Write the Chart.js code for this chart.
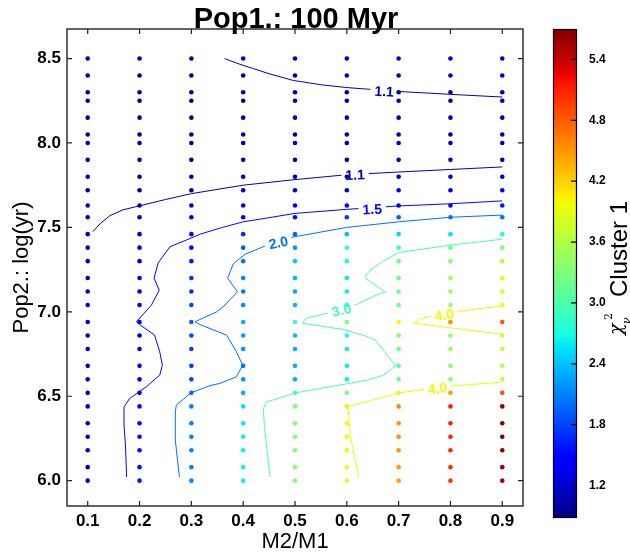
<!DOCTYPE html>
<html>
<head>
<meta charset="UTF-8">
<title>Pop1.: 100 Myr</title>
<style>
  body { margin: 0; background: #fff; }
  #wrap { position: relative; width: 630px; height: 558px; }
  #wrap canvas { position: absolute; left: 0; top: 0; }
</style>
</head>
<body>
<div id="wrap">
  <canvas id="grid" width="630" height="558"></canvas>
  <canvas id="cbar" width="630" height="558"></canvas>
</div>
<script src="https://cdn.jsdelivr.net/npm/chart.js@4"></script>
<script>
const FONT = '"Liberation Sans", Arial, sans-serif';

// model grid: mass ratio columns, log(age) rows (top to bottom)
const massRatio = [0.1, 0.2, 0.3, 0.4, 0.5, 0.6, 0.7, 0.8, 0.9];
const logAge = [8.5, 8.4, 8.3, 8.25, 8.15, 8.05, 8.0, 7.9, 7.8, 7.72,
                7.63, 7.56, 7.46, 7.38, 7.3, 7.2, 7.12, 7.04, 6.94, 6.86,
                6.78, 6.68, 6.6, 6.52, 6.44, 6.34, 6.26, 6.18, 6.08, 6.0];

// reduced chi^2 for each mass ratio, same row order as logAge
const chi2_q01 = [1.02,1.01,1.00,0.99,0.98,0.97,0.97,0.98,1.00,1.02, 1.04,1.06,1.08,1.09,1.10,1.11,1.11,1.12,1.14,1.12, 1.12,1.11,1.12,1.12,1.13,1.13,1.14,1.14,1.14,1.15];
const chi2_q02 = [1.03,1.00,0.97,0.95,0.93,0.91,0.88,0.92,0.96,1.02, 1.09,1.14,1.18,1.22,1.25,1.28,1.27,1.30,1.47,1.31, 1.29,1.28,1.30,1.36,1.52,1.56,1.57,1.57,1.58,1.58];
const chi2_q03 = [1.05,1.03,1.00,0.98,0.96,0.95,0.95,0.97,1.01,1.10, 1.18,1.30,1.45,1.55,1.62,1.72,1.70,1.78,1.95,1.82, 1.80,1.78,1.82,1.98,2.08,2.10,2.11,2.12,2.12,2.13];
const chi2_q04 = [1.12,1.08,1.04,1.02,1.00,0.99,0.99,1.02,1.07,1.15, 1.28,1.45,1.70,1.92,2.05,2.10,2.05,2.15,2.30,2.22, 2.18,2.02,2.20,2.30,2.55,2.60,2.62,2.62,2.63,2.63];
const chi2_q05 = [1.15,1.11,1.07,1.05,1.03,1.02,1.02,1.04,1.09,1.20, 1.40,1.55,1.95,2.20,2.45,2.35,2.30,2.35,2.90,2.38, 2.32,2.30,2.32,2.98,3.30,3.32,3.33,3.33,3.34,3.34];
const chi2_q06 = [1.16,1.12,1.09,1.07,1.05,1.04,1.04,1.06,1.10,1.25, 1.45,1.75,2.40,2.85,2.75,2.60,2.60,2.70,3.30,2.75, 2.62,2.60,2.62,3.30,4.00,3.97,3.95,3.93,3.90,3.86];
const chi2_q07 = [1.18,1.13,1.10,1.08,1.06,1.05,1.05,1.07,1.12,1.30, 1.50,1.92,2.50,2.95,3.15,3.15,3.13,3.20,3.95,3.30, 3.20,3.00,3.15,4.00,4.55,4.50,4.50,4.48,4.45,4.45];
const chi2_q08 = [1.19,1.14,1.11,1.09,1.07,1.06,1.06,1.08,1.14,1.35, 1.55,2.02,2.55,3.15,3.40,3.45,3.50,3.50,4.55,3.45, 3.42,3.35,3.42,4.45,5.10,5.10,5.10,5.05,5.02,5.00];
const chi2_q09 = [1.20,1.15,1.12,1.09,1.08,1.07,1.07,1.09,1.16,1.40, 1.60,2.05,2.75,3.30,3.60,3.90,3.75,3.97,4.85,3.80, 3.65,3.60,3.72,4.85,5.60,5.60,5.70,5.60,5.55,5.55];
const chi2Columns = [chi2_q01, chi2_q02, chi2_q03, chi2_q04, chi2_q05, chi2_q06, chi2_q07, chi2_q08, chi2_q09];

const xTicks = [0.1, 0.2, 0.3, 0.4, 0.5, 0.6, 0.7, 0.8, 0.9];
const yTicks = [6.0, 6.5, 7.0, 7.5, 8.0, 8.5];
const cbTicks = [1.2, 1.8, 2.4, 3.0, 3.6, 4.2, 4.8, 5.4];
const cbMin = 0.88, cbMax = 5.7;

// contour paths, [M2/M1, log(yr)]
const cont11a = [[0.364,8.50],[0.39,8.47],[0.42,8.44],[0.45,8.41],[0.497,8.37],[0.55,8.345],[0.6,8.328],[0.7,8.305],[0.8,8.288],[0.9,8.272]];
const cont11b = [[0.11,7.475],[0.125,7.525],[0.143,7.57],[0.168,7.604],[0.2,7.628],[0.25,7.665],[0.3,7.70],[0.4,7.75],[0.5,7.783],[0.6,7.812],[0.7,7.828],[0.8,7.843],[0.9,7.858]];
const cont15 = [[0.175,6.021],[0.173,6.2],[0.170,6.33],[0.170,6.437],[0.181,6.487],[0.213,6.556],[0.239,6.625],[0.244,6.684],[0.239,6.763],[0.229,6.862],[0.2,6.925],[0.194,6.941],[0.223,7.040],[0.238,7.129],[0.228,7.199],[0.236,7.290],[0.259,7.386],[0.291,7.426],[0.317,7.46],[0.36,7.50],[0.4,7.533],[0.433,7.549],[0.5,7.583],[0.6,7.607],[0.7,7.627],[0.8,7.64],[0.9,7.657]];
const cont20 = [[0.277,6.021],[0.269,6.24],[0.269,6.407],[0.271,6.447],[0.299,6.52],[0.336,6.563],[0.355,6.576],[0.387,6.615],[0.399,6.684],[0.387,6.763],[0.368,6.862],[0.317,6.924],[0.307,6.941],[0.349,7.0],[0.365,7.04],[0.389,7.119],[0.370,7.199],[0.381,7.285],[0.404,7.341],[0.442,7.39],[0.491,7.44],[0.6,7.5],[0.7,7.533],[0.8,7.56],[0.9,7.573]];
const cont30 = [[0.452,6.021],[0.441,6.319],[0.439,6.427],[0.445,6.466],[0.501,6.52],[0.639,6.595],[0.671,6.625],[0.694,6.680],[0.655,6.833],[0.635,6.858],[0.594,6.895],[0.515,6.932],[0.52,6.961],[0.561,6.99],[0.61,7.03],[0.652,7.093],[0.674,7.118],[0.636,7.199],[0.638,7.222],[0.652,7.262],[0.671,7.301],[0.7,7.351],[0.8,7.395],[0.9,7.43]];
const cont40a = [[0.9,7.035],[0.813,7.002],[0.761,6.972],[0.742,6.958],[0.729,6.934],[0.8,6.905],[0.9,6.868]];
const cont40b = [[0.897,6.582],[0.8,6.561],[0.7,6.52],[0.6,6.437],[0.603,6.418],[0.607,6.259],[0.623,6.021]];
const contourPaths = [cont11a, cont11b, cont15, cont20, cont30, cont40a, cont40b];
const contourLevels = [1.1, 1.1, 1.5, 2.0, 3.0, 4.0, 4.0];

// inline contour labels
const labelText = ['1.1', '1.1', '1.5', '2.0', '3.0', '4.0', '4.0'];
const labelX = [0.672, 0.616, 0.649, 0.468, 0.590, 0.788, 0.775];
const labelY = [8.306, 7.812, 7.608, 7.41, 7.011, 6.981, 6.546];
const labelAngle = [3, -2, -3, -12, -14, -9, -7];

// matplotlib "jet"
const jetR = [[0,0],[0.35,0],[0.66,1],[0.89,1],[1,0.5]];
const jetG = [[0,0],[0.125,0],[0.375,1],[0.64,1],[0.91,0],[1,0]];
const jetB = [[0,0.5],[0.11,1],[0.34,1],[0.65,0],[1,0]];
function seg(pts, t) {
  for (let i = 1; i < pts.length; i++) {
    if (t <= pts[i][0]) {
      const [x0, y0] = pts[i - 1], [x1, y1] = pts[i];
      return y0 + (y1 - y0) * (t - x0) / (x1 - x0);
    }
  }
  return pts[pts.length - 1][1];
}
function jetT(t) {
  t = Math.min(1, Math.max(0, t));
  return 'rgb(' + [jetR, jetG, jetB].map(p => Math.round(seg(p, t) * 255)).join(',') + ')';
}
function jet(v) { return jetT((v - cbMin) / (cbMax - cbMin)); }

const points = [], pointColors = [];
massRatio.forEach((q, i) => {
  logAge.forEach((a, j) => {
    points.push({ x: q, y: a });
    pointColors.push(jet(chi2Columns[i][j]));
  });
});

const datasets = [{
  data: points,
  pointBackgroundColor: pointColors,
  pointBorderWidth: 0,
  pointRadius: 2.3
}];
contourPaths.forEach((path, k) => {
  datasets.push({
    data: path.map(p => ({ x: p[0], y: p[1] })),
    showLine: true,
    borderColor: jet(contourLevels[k]),
    borderWidth: 1,
    pointRadius: 0,
    tension: 0
  });
});

// box with inward ticks on all four sides
const frame = {
  id: 'frame',
  afterDatasetsDraw(chart) {
    const { ctx, chartArea: a, scales: { x, y } } = chart;
    ctx.save();
    ctx.strokeStyle = '#222';
    ctx.lineWidth = 1.4;
    ctx.strokeRect(a.left, a.top, a.right - a.left, a.bottom - a.top);
    ctx.lineWidth = 1.2;
    ctx.beginPath();
    xTicks.forEach(v => {
      const px = x.getPixelForValue(v);
      ctx.moveTo(px, a.bottom); ctx.lineTo(px, a.bottom - 5);
      ctx.moveTo(px, a.top); ctx.lineTo(px, a.top + 5);
    });
    yTicks.forEach(v => {
      const py = y.getPixelForValue(v);
      ctx.moveTo(a.left, py); ctx.lineTo(a.left + 5, py);
      ctx.moveTo(a.right, py); ctx.lineTo(a.right - 5, py);
    });
    ctx.stroke();
    ctx.restore();
  },
  afterDraw(chart) {
    const { ctx } = chart;
    ctx.save();
    ctx.font = 'bold 29px ' + FONT;
    ctx.fillStyle = '#000';
    ctx.textAlign = 'center';
    ctx.textBaseline = 'alphabetic';
    ctx.fillText('Pop1.: 100 Myr', 296, 28);
    ctx.restore();
  }
};

// contour labels go under the grid dots (dataset 0 is drawn last)
const contourLabels = {
  id: 'contourLabels',
  beforeDatasetDraw(chart, args) {
    if (args.index !== 0) return;
    const { ctx, scales: { x, y } } = chart;
    ctx.save();
    ctx.font = 'bold 14px ' + FONT;
    ctx.textAlign = 'center';
    ctx.textBaseline = 'middle';
    labelText.forEach((t, k) => {
      ctx.save();
      ctx.translate(x.getPixelForValue(labelX[k]), y.getPixelForValue(labelY[k]));
      ctx.rotate(labelAngle[k] * Math.PI / 180);
      const w = ctx.measureText(t).width;
      ctx.fillStyle = '#fff';
      ctx.fillRect(-w / 2 - 4, -4, w + 8, 8);
      ctx.fillStyle = jet(contourLevels[k]);
      ctx.fillText(t, 0, 1);
      ctx.restore();
    });
    ctx.restore();
  }
};

new Chart(document.getElementById('grid'), {
  type: 'scatter',
  data: { datasets },
  options: {
    responsive: false,
    animation: false,
    events: [],
    layout: { padding: { left: 0, right: 107, top: 29, bottom: 0 } },
    plugins: { legend: { display: false }, tooltip: { enabled: false } },
    scales: {
      x: {
        type: 'linear', min: 0.06, max: 0.94,
        afterBuildTicks: s => { s.ticks = xTicks.map(v => ({ value: v })); },
        afterFit: s => { s.height = 52; },
        grid: { display: false }, border: { display: false },
        ticks: { padding: -3, color: '#000', autoSkip: false, maxRotation: 0,
                 font: { family: FONT, size: 17, weight: 'bold' }, callback: v => v.toFixed(1) },
        title: { display: true, text: 'M2/M1', color: '#000',
                 font: { family: FONT, size: 22 }, padding: { top: 0, bottom: 3 } }
      },
      y: {
        type: 'linear', min: 5.85, max: 8.675,
        afterBuildTicks: s => { s.ticks = yTicks.map(v => ({ value: v })); },
        afterFit: s => { s.width = 67; },
        grid: { display: false }, border: { display: false },
        ticks: { padding: -2, color: '#000', autoSkip: false,
                 font: { family: FONT, size: 17, weight: 'bold' }, callback: v => v.toFixed(1) },
        title: { display: true, text: 'Pop2.: log(yr)', color: '#000',
                 font: { family: FONT, size: 22 }, padding: { top: 9, bottom: 0 } }
      }
    }
  },
  plugins: [contourLabels, frame]
});

// colour bar
const cbDecor = {
  id: 'cbDecor',
  afterDraw(chart) {
    const { ctx, chartArea: a, scales: { y } } = chart;
    ctx.save();
    ctx.strokeStyle = '#000';
    ctx.lineWidth = 1.2;
    ctx.beginPath();
    cbTicks.forEach(v => {
      const py = y.getPixelForValue(v);
      ctx.moveTo(a.right, py); ctx.lineTo(a.right - 6, py);
    });
    ctx.stroke();
    ctx.strokeRect(a.left + 0.5, a.top + 0.5, a.right - a.left - 1, a.bottom - a.top - 1);

    ctx.translate(627, 336);
    ctx.rotate(-Math.PI / 2);
    ctx.fillStyle = '#000';
    ctx.textBaseline = 'alphabetic';
    ctx.font = 'italic 19px "DejaVu Serif", serif';
    ctx.fillText('χ', 1, -5);
    ctx.font = '11px "DejaVu Serif", serif';
    ctx.fillText('2', 16, -15);
    ctx.font = 'italic 11px "DejaVu Serif", serif';
    ctx.fillText('ν', 12, 3);
    ctx.font = '24px ' + FONT;
    ctx.fillText('Cluster 1', 39, 0);
    ctx.restore();
  }
};

new Chart(document.getElementById('cbar'), {
  type: 'bar',
  data: {
    labels: [''],
    datasets: [{
      data: [[cbMin, cbMax]],
      backgroundColor: c => {
        const a = c.chart.chartArea;
        if (!a) return '#000';
        const g = c.chart.ctx.createLinearGradient(0, a.bottom, 0, a.top);
        for (let i = 0; i <= 64; i++) g.addColorStop(i / 64, jetT(i / 64));
        return g;
      },
      borderWidth: 0,
      barPercentage: 1,
      categoryPercentage: 1
    }]
  },
  options: {
    responsive: false,
    animation: false,
    events: [],
    layout: { padding: { left: 553, right: 0, top: 29, bottom: 40 } },
    plugins: { legend: { display: false }, tooltip: { enabled: false } },
    scales: {
      x: { display: false },
      y: {
        position: 'right', min: cbMin, max: cbMax,
        afterBuildTicks: s => { s.ticks = cbTicks.map(v => ({ value: v })); },
        afterFit: s => { s.width = 53; },
        grid: { display: false }, border: { display: false },
        ticks: { padding: 4, color: '#000', autoSkip: false,
                 font: { family: FONT, size: 12, weight: 'bold' }, callback: v => v.toFixed(1) }
      }
    }
  },
  plugins: [cbDecor]
});
</script>
</body>
</html>
